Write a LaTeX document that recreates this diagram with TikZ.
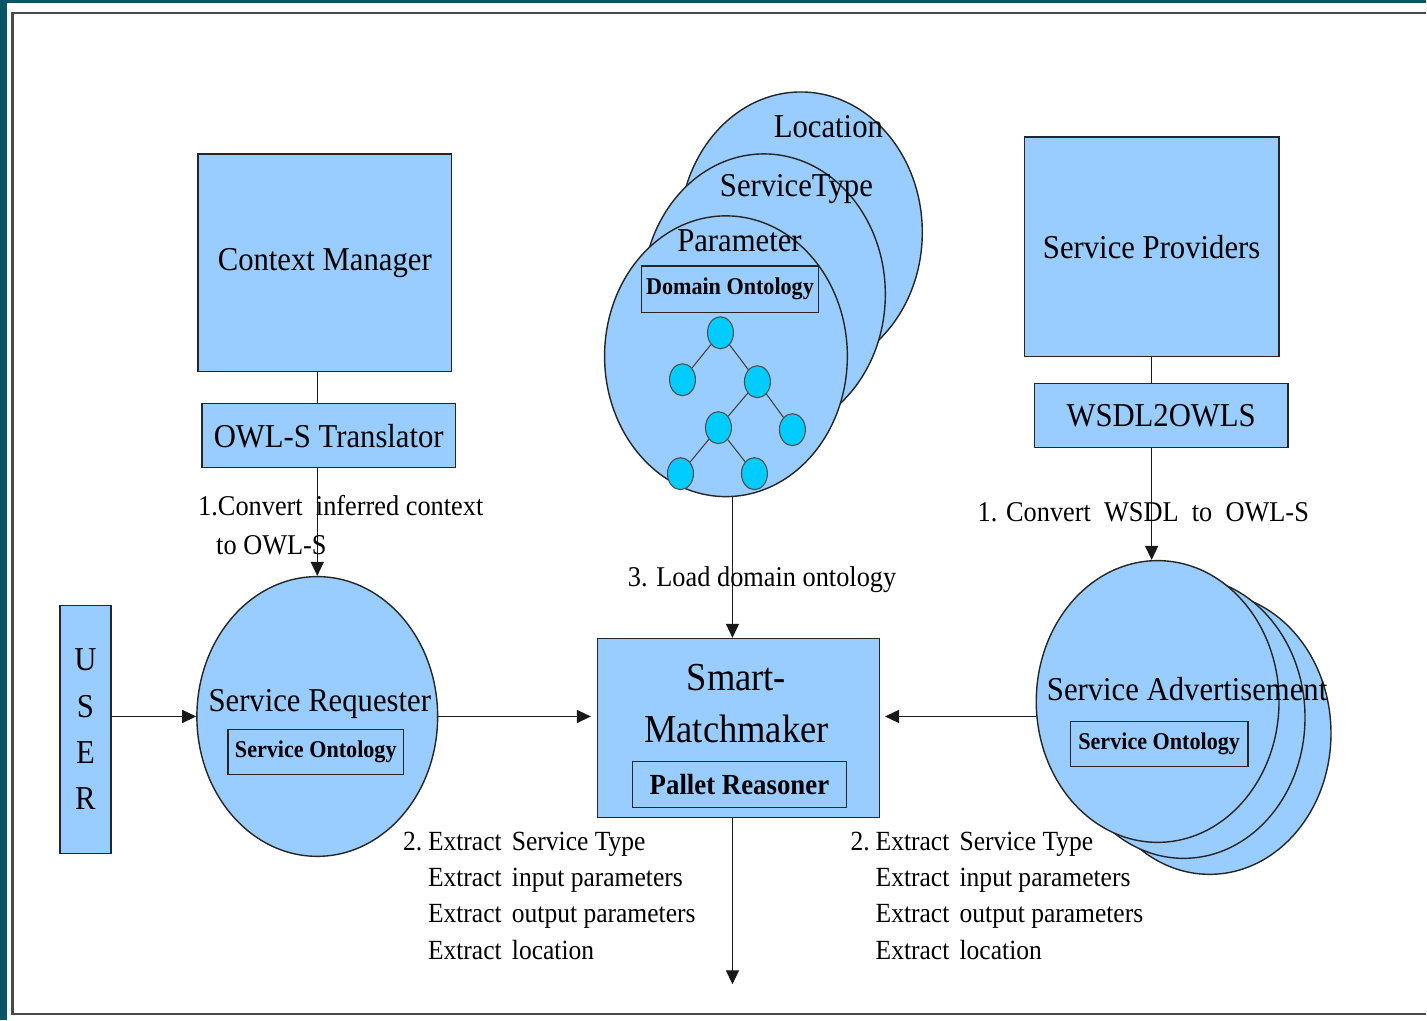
\documentclass[tikz,border=0pt]{standalone}
\usepackage{fontspec}
\setmainfont{Liberation Serif}[FakeStretch=0.92]
\usetikzlibrary{shapes.geometric,arrows.meta}

\definecolor{boxblue}{HTML}{99CCFF}
\definecolor{treecyan}{HTML}{00CCFF}
\definecolor{slidebg}{HTML}{0A5468}
\definecolor{framegray}{HTML}{4A4A4A}

\newcommand{\bigtxt}{\fontsize{19}{21}\selectfont}
\newcommand{\smtxt}{\fontsize{22.6}{29.6}\selectfont}
\newcommand{\usertxt}{\fontsize{19}{26.4}\selectfont}
\newcommand{\lbltxt}{\fontsize{16.3}{22}\selectfont}
\newcommand{\extracttxt}{\fontsize{15.8}{20.7}\selectfont}
\newcommand{\ontbold}{\bfseries\fontsize{13.7}{15}\selectfont}
\newcommand{\palletbold}{\bfseries\fontsize{16.6}{18}\selectfont}

\begin{document}
\begin{tikzpicture}
    [x=0.02cm, y=-0.02cm,
     box/.style={draw=black!85, line width=0.8pt, fill=boxblue, inner sep=0pt, font=\bigtxt},
     oval/.style={box, ellipse, minimum width=4.86cm, minimum height=5.62cm},
     inbox/.style={draw=black!85, line width=0.8pt, inner sep=0pt, font=\ontbold},
     leaf/.style={draw=black!70, ellipse, fill=treecyan, line width=0.6pt, inner sep=0pt,
                  minimum width=0.52cm, minimum height=0.64cm},
     twig/.style={draw=black!75, line width=0.6pt},
     txt/.style={inner sep=0pt, font=\bigtxt},
     lbl/.style={inner sep=0pt, anchor=west, font=\lbltxt},
     arr/.style={draw=black!90, line width=0.8pt, -{Triangle[length=0.28cm, width=0.26cm]}},
     link/.style={draw=black!90, line width=0.8pt},
    ]
    % slide background and frame
    \fill [slidebg] (0,0) rectangle (1427,1021);
    \fill [white] (7,3) rectangle (1427,1021);
    \draw [framegray, line width=1.2pt] (1427,13) -- (12.5,13) -- (12.5,1015) -- (1427,1015);
    \useasboundingbox (0,0) rectangle (1427,1021);

    % left side
    \node (context-manager) [box, minimum width=5.08cm, minimum height=4.36cm] at (325,263) {Context Manager};
    \node (owls-translator) [box, minimum width=5.08cm, minimum height=1.28cm] at (329,436) {OWL-S Translator};
    \node (user) [box, minimum width=1.02cm, minimum height=4.96cm, align=center, font=\usertxt] at (85.5,730) {U\\S\\E\\R};
    \node (requester) [oval, minimum width=4.82cm, minimum height=5.60cm] at (317.5,717) {};
    \node (requester-txt) [txt] at (320,705) {Service Requester};
    \node (requester-ont) [inbox, minimum width=3.52cm, minimum height=0.90cm] at (316,752.5) {Service Ontology};

    % right side
    \node (service-providers) [box, minimum width=5.10cm, minimum height=4.40cm] at (1152.5,247) {Service Providers};
    \node (wsdl2owls) [box, minimum width=5.08cm, minimum height=1.28cm] at (1162,416) {WSDL2OWLS};
    \node (adv-3) [oval, minimum height=5.64cm] at (1210.5,734) {};
    \node (adv-2) [oval, minimum height=5.64cm] at (1184.5,718) {};
    \node (adv-1) [oval, minimum height=5.64cm] at (1158.5,702) {};
    \node (adv-txt) [txt] at (1188,690) {Service Advertisement};
    \node (adv-ont) [inbox, minimum width=3.56cm, minimum height=0.90cm] at (1160,744.5) {Service Ontology};

    % domain ontology stack
    \node (location) [oval] at (801.5,232.5) {};
    \node (service-type) [oval] at (764.5,294.5) {};
    \node (parameter) [oval] at (726.5,356.5) {};
    \node (location-txt) [txt] at (829,127) {Location};
    \node (service-type-txt) [txt] at (797,189) {ServiceType};
    \node (parameter-txt) [txt] at (740,241) {Parameter};
    \node (domain-ont) [inbox, minimum width=3.54cm, minimum height=0.94cm] at (730.5,289.5) {Domain Ontology};

    \node (t-root) [leaf] at (721,333) {};
    \node (t-a) [leaf] at (683,380) {};
    \node (t-b) [leaf] at (758,382) {};
    \node (t-ba) [leaf] at (719,428) {};
    \node (t-bb) [leaf] at (793,430) {};
    \node (t-baa) [leaf] at (681,474) {};
    \node (t-bab) [leaf] at (755,474) {};
    \draw [twig] (t-root) -- (t-a);
    \draw [twig] (t-root) -- (t-b);
    \draw [twig] (t-b) -- (t-ba);
    \draw [twig] (t-b) -- (t-bb);
    \draw [twig] (t-ba) -- (t-baa);
    \draw [twig] (t-ba) -- (t-bab);

    % matchmaker
    \node (smart-matchmaker) [box, minimum width=5.64cm, minimum height=3.58cm] at (739,728.5) {};
    \node (sm-title) [txt, align=center, font=\smtxt] at (737,704) {Smart-\\Matchmaker};
    \node (pallet) [inbox, minimum width=4.28cm, minimum height=0.92cm, font=\palletbold] at (740,785) {Pallet Reasoner};
    \coordinate (exit) at (733,985);

    \draw [link] (context-manager.south -| requester.north) -- (owls-translator.north -| requester.north);
    \draw [arr] (owls-translator.south -| requester.north) -- (requester.north);
    \draw [link] (service-providers.south) -- (wsdl2owls.north -| service-providers.south);
    \draw [arr] (wsdl2owls.south -| service-providers.south) -- (adv-1.north -| service-providers.south);
    \draw [arr] (parameter.south -| exit) -- (smart-matchmaker.north -| exit);
    \draw [arr] (user.east |- requester.west) -- (requester.west);
    \draw [arr, shorten >=0.12cm] (requester.east) -- (requester.east -| smart-matchmaker.west);
    \draw [arr, shorten >=0.1cm] (requester.east -| adv-1.west) -- (requester.east -| smart-matchmaker.east);
    \draw [arr] (smart-matchmaker.south -| exit) -- (exit);

    % labels
    \node (convert-ctx) [lbl, align=left] at (198,525.5) {1.Convert\ \ inferred context\\\hspace*{0.36cm}to OWL-S};
    \node (load-ont) [lbl] at (628,580) {3. Load domain ontology};
    \node (convert-wsdl) [lbl] at (978,513) {1. Convert\ \ WSDL\ \ to\ \ OWL-S};
    \node (req-extract) [anchor=north west, inner sep=0pt, font=\extracttxt] at (403,825) {%
        \begin{tabular}{@{}p{0.5cm}@{}p{1.68cm}@{}l@{}}
        2. & Extract & Service Type\\
           & Extract & input parameters\\
           & Extract & output parameters\\
           & Extract & location
        \end{tabular}};
    \node (adv-extract) [anchor=north west, inner sep=0pt, font=\extracttxt] at (851,825) {%
        \begin{tabular}{@{}p{0.5cm}@{}p{1.68cm}@{}l@{}}
        2. & Extract & Service Type\\
           & Extract & input parameters\\
           & Extract & output parameters\\
           & Extract & location
        \end{tabular}};

\end{tikzpicture}
\end{document}
